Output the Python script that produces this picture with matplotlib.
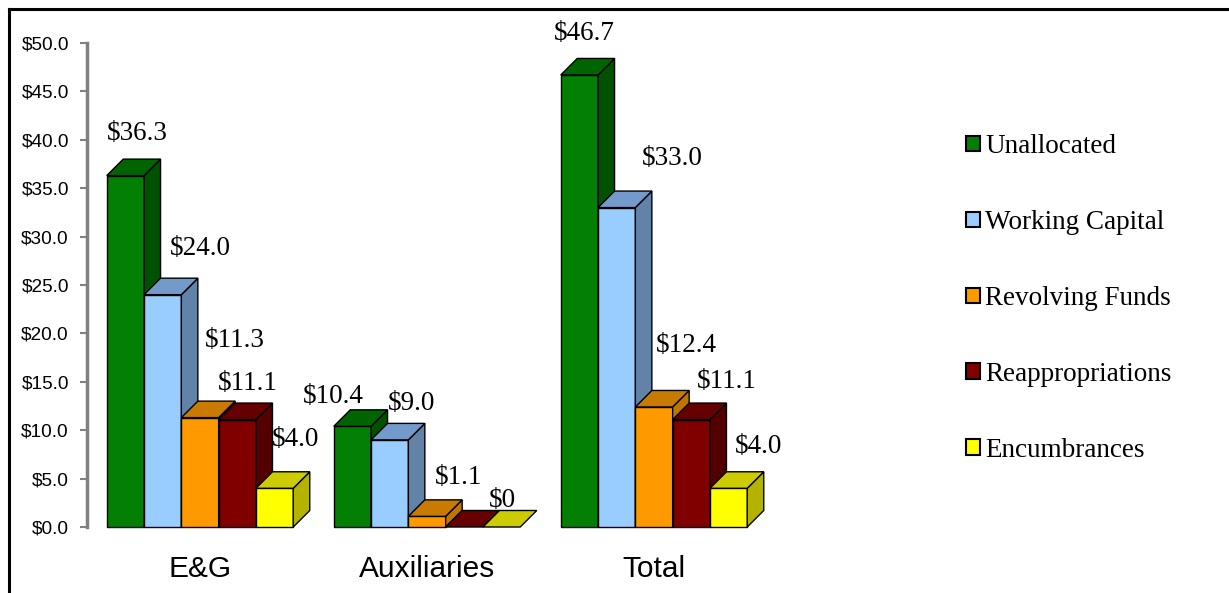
import matplotlib
matplotlib.use('Agg')
import matplotlib.pyplot as plt
from matplotlib.patches import Polygon, Patch
from matplotlib.lines import Line2D
from matplotlib.ticker import FuncFormatter

# ---------------- data ----------------
categories = ['E&G', 'Auxiliaries', 'Total']
series_names = ['Unallocated', 'Working Capital', 'Revolving Funds',
                'Reappropriations', 'Encumbrances']
unallocated = [36.3, 10.4, 46.7]
working_capital = [24.0, 9.0, 33.0]
revolving_funds = [11.3, 1.1, 12.4]
reappropriations = [11.1, 0.0, 11.1]
encumbrances = [4.0, 0.0, 4.0]
y_ticks = [0, 5, 10, 15, 20, 25, 30, 35, 40, 45, 50]

series_values = [unallocated, working_capital, revolving_funds,
                 reappropriations, encumbrances]

# ---------------- style ----------------
# (front, top, side)
colors = [
    ('#038003', '#006400', '#005200'),
    ('#99CCFF', '#739ACA', '#6382A8'),
    ('#FF9900', '#C97A00', '#C27400'),
    ('#800000', '#660000', '#550000'),
    ('#FFFF00', '#CCCC00', '#B3B300'),
]
# label offsets in pixels (right, up) relative to the bar top centre
label_offsets = [
    [(4, 26), (-27, 13), (-3, 25)],
    [(29, 30), (14, 20), (47, 33)],
    [(27, 61), (23, 22), (24, 45)],
    [(2, 20), None, (27, 22)],
    [(13, 32), (-7, 10), (22, 25)],
]

W, H, DPI = 1229, 593, 100
fig = plt.figure(figsize=(W / DPI, H / DPI), dpi=DPI)
fig.patch.set_facecolor('white')

ax_left_px, ax_right_px, ax_top_px, ax_bot_px = 87, 800, 43, 527
ax = fig.add_axes([ax_left_px / W, (H - ax_bot_px) / H,
                   (ax_right_px - ax_left_px) / W, (ax_bot_px - ax_top_px) / H])

group_px = 227.0
xpx_per_unit = group_px
ypx_per_unit = (ax_bot_px - ax_top_px) / 50.0
bar_w = 37.3 / group_px
depth_px = 16.5
ddx = depth_px / xpx_per_unit
ddy = depth_px / ypx_per_unit

x0 = (ax_left_px - 200) / group_px
ax.set_xlim(x0, x0 + (ax_right_px - ax_left_px) / group_px)
ax.set_ylim(0, 50)

n = len(series_names)
for g in range(len(categories)):
    for i in range(n):
        v = series_values[i][g]
        front, top, side = colors[i]
        xl = g - n * bar_w / 2 + i * bar_w
        xr = xl + bar_w
        kw = dict(edgecolor='black', linewidth=1.0, joinstyle='miter', clip_on=False)
        if v > 0:
            ax.add_patch(Polygon([(xl, 0), (xr, 0), (xr, v), (xl, v)],
                                 closed=True, facecolor=front, **kw))
            ax.add_patch(Polygon([(xr, 0), (xr + ddx, ddy), (xr + ddx, v + ddy), (xr, v)],
                                 closed=True, facecolor=side, **kw))
        ax.add_patch(Polygon([(xl, v), (xr, v), (xr + ddx, v + ddy), (xl + ddx, v + ddy)],
                             closed=True, facecolor=top, **kw))
        off = label_offsets[i][g]
        if off is not None:
            txt = '$0' if v == 0 else f'${v:.1f}'
            ax.annotate(txt, xy=(xl + bar_w / 2 + ddx / 2, v + ddy),
                        xytext=off, textcoords='offset pixels',
                        ha='center', va='center', fontsize=19.5,
                        family='Liberation Serif', color='black',
                        annotation_clip=False)

# axes styling
for s in ['top', 'right', 'bottom']:
    ax.spines[s].set_visible(False)
ax.spines['left'].set_color('#808080')
ax.spines['left'].set_linewidth(2.5)
ax.set_yticks(y_ticks)
ax.yaxis.set_major_formatter(FuncFormatter(lambda y, p: f'${y:.1f}'))
ax.tick_params(axis='y', direction='out', length=5, width=1.5, color='#808080',
               pad=8, labelsize=13.7, labelcolor='black')
for lab in ax.get_yticklabels():
    lab.set_family('Liberation Sans')
ax.set_xticks(range(len(categories)))
ax.set_xticklabels(categories)
ax.tick_params(axis='x', length=0, pad=20, labelsize=21.5)
for lab in ax.get_xticklabels():
    lab.set_family('Liberation Sans')
ax.patch.set_alpha(0)

# legend
handles = [Patch(facecolor=colors[i][0], edgecolor='black', linewidth=1.5)
           for i in range(n)]
fig.legend(handles, series_names, loc='upper left',
           bbox_to_anchor=(966 / W, 1 - 134 / H), frameon=False,
           prop={'family': 'Liberation Serif', 'size': 19.5},
           handlelength=0.5, handleheight=0.5, handletextpad=0.2,
           labelspacing=1.88, borderpad=0, borderaxespad=0)

# figure border (left and top)
fig.add_artist(Line2D([8.5 / W, 8.5 / W], [0, 1 - 8.5 / H], transform=fig.transFigure,
                      color='black', linewidth=2.2, solid_capstyle='projecting'))
fig.add_artist(Line2D([8.5 / W, 1], [1 - 8.5 / H, 1 - 8.5 / H], transform=fig.transFigure,
                      color='black', linewidth=2.2, solid_capstyle='projecting'))

fig.savefig('out.png', dpi=DPI)
